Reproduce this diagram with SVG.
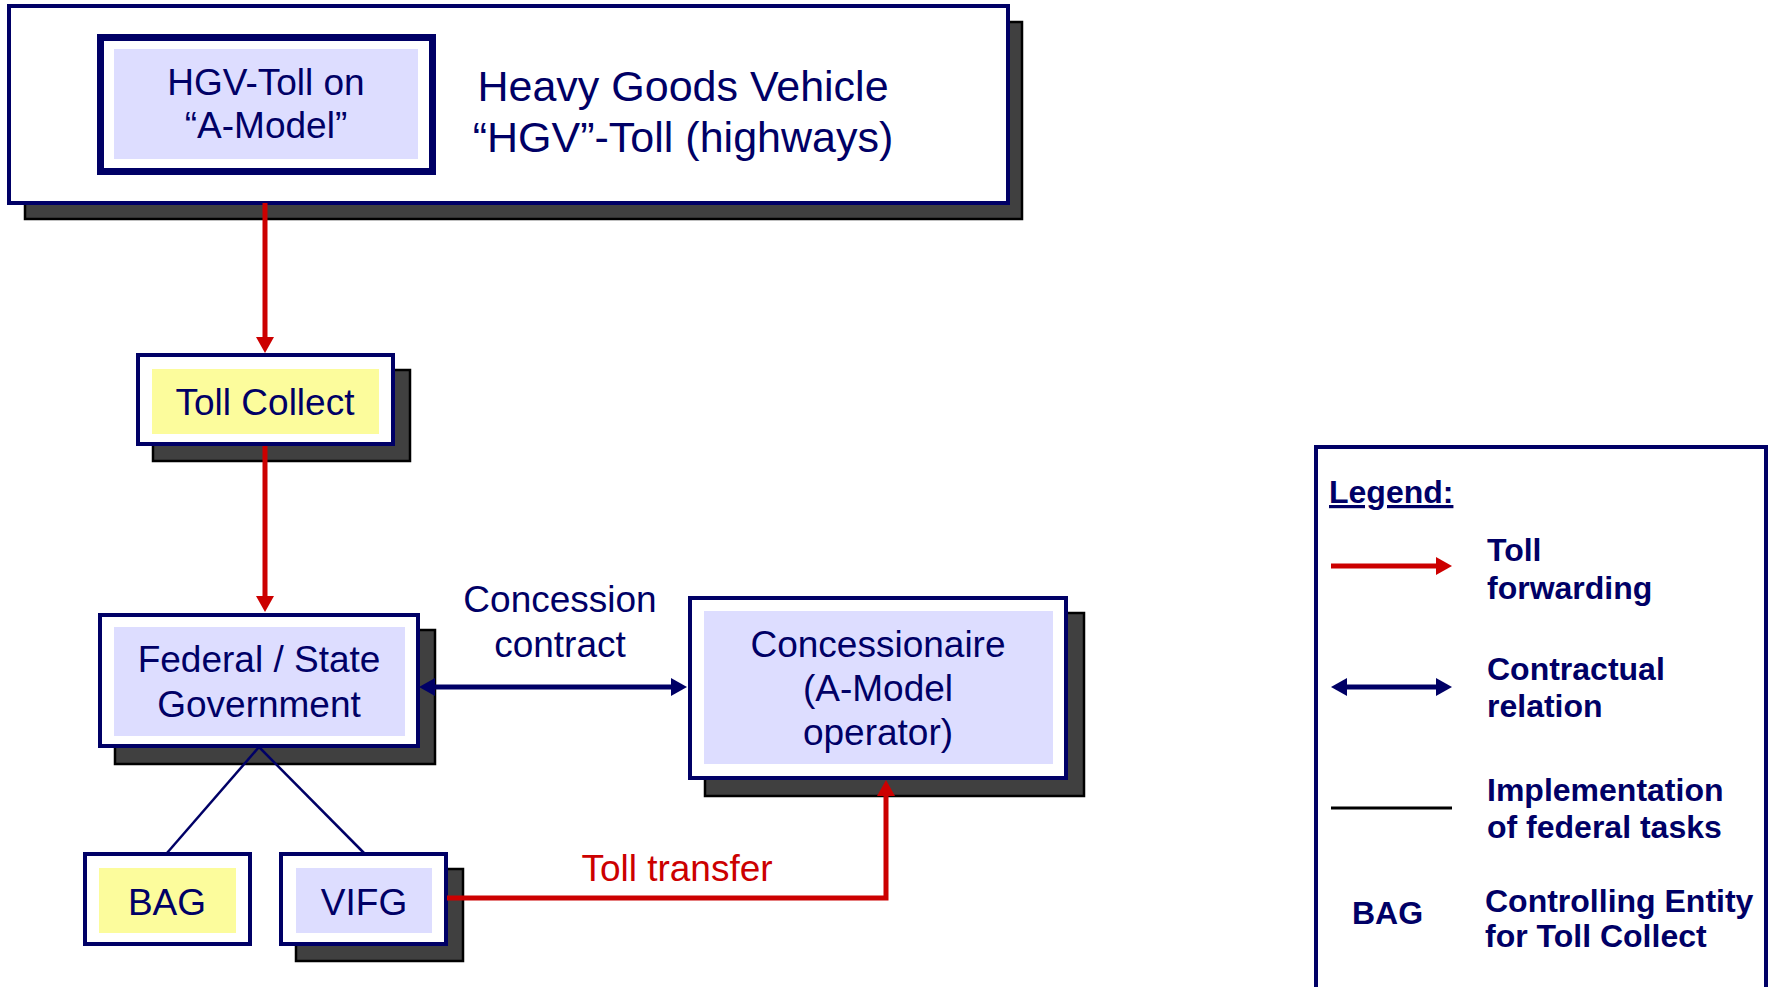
<svg xmlns="http://www.w3.org/2000/svg" width="1771" height="987" viewBox="0 0 1771 987">
<style>
.bg{fill:#ffffff}
.frame{fill:#ffffff;stroke:#000066;stroke-width:4}
.shadow{fill:#404040;stroke:#000000;stroke-width:2.5}
.lav{fill:#DDDDFF}
.yel{fill:#FCFC9C}
.t{font-family:"Liberation Sans",Arial,sans-serif;font-size:37px;fill:#000066;text-anchor:middle}
.head{font-size:43px}
.red{fill:#CC0000}
.lg{font-family:"Liberation Sans",Arial,sans-serif;font-size:32px;font-weight:bold;fill:#000066}
.redline{stroke:#CC0000;stroke-width:5;fill:none}
.navyline{stroke:#000066;stroke-width:5;fill:none}
.thin{stroke:#000066;stroke-width:2.5;fill:none}
</style>
<defs>
<marker id="redHead" markerWidth="16" markerHeight="18" refX="4" refY="9" orient="auto" markerUnits="userSpaceOnUse"><path d="M0,0 L16,9 L0,18 z" fill="#CC0000"/></marker>
<marker id="navyHead" markerWidth="16" markerHeight="18" refX="4" refY="9" orient="auto-start-reverse" markerUnits="userSpaceOnUse"><path d="M0,0 L16,9 L0,18 z" fill="#000066"/></marker>
</defs>
<rect class="bg" x="0" y="0" width="1771" height="987"/>

<g id="hgv-toll">
<rect class="shadow" x="25" y="22" width="997" height="197"/>
<rect class="frame" x="9" y="6" width="999" height="197" stroke-width="3"/>
<text class="t head" x="683" y="101">Heavy Goods Vehicle</text>
<text class="t head" x="683" y="152">“HGV”-Toll (highways)</text>
</g>

<g id="a-model">
<rect x="100.5" y="37.5" width="332" height="134" fill="#ffffff" stroke="#000066" stroke-width="7"/>
<rect class="lav" x="114" y="49" width="304" height="110"/>
<text class="t" x="266" y="95">HGV-Toll on</text>
<text class="t" x="266" y="138">“A-Model”</text>
</g>

<g id="toll-collect">
<rect class="shadow" x="153" y="370" width="257" height="91"/>
<rect class="frame" x="138" y="355" width="255" height="89"/>
<rect class="yel" x="152" y="369" width="227" height="65"/>
<text class="t" x="265" y="415">Toll Collect</text>
</g>

<g id="government">
<rect class="shadow" x="115" y="630" width="320" height="134"/>
<rect class="frame" x="100" y="615" width="318" height="131"/>
<rect class="lav" x="114" y="627" width="291" height="109"/>
<text class="t" x="259" y="672">Federal / State</text>
<text class="t" x="259" y="717">Government</text>
</g>

<g id="concessionaire">
<rect class="shadow" x="705" y="613" width="379" height="183"/>
<rect class="frame" x="690" y="598" width="376" height="180"/>
<rect class="lav" x="704" y="611" width="349" height="153"/>
<text class="t" x="878" y="657">Concessionaire</text>
<text class="t" x="878" y="701">(A-Model</text>
<text class="t" x="878" y="745">operator)</text>
</g>

<g id="bag">
<rect class="frame" x="85" y="854" width="165" height="90"/>
<rect class="yel" x="99" y="868" width="137" height="65"/>
<text class="t" x="167" y="915">BAG</text>
</g>

<g id="vifg">
<rect class="shadow" x="296" y="869" width="167" height="92"/>
<rect class="frame" x="281" y="854" width="165" height="90"/>
<rect class="lav" x="296" y="868" width="136" height="65"/>
<text class="t" x="364" y="915">VIFG</text>
</g>

<g id="connectors">
<line class="redline" x1="265" y1="203" x2="265" y2="341" marker-end="url(#redHead)"/>
<line class="redline" x1="265" y1="446" x2="265" y2="600" marker-end="url(#redHead)"/>
<line class="navyline" x1="431" y1="687" x2="675" y2="687" marker-start="url(#navyHead)" marker-end="url(#navyHead)"/>
<line class="thin" x1="259" y1="747" x2="167" y2="853"/>
<line class="thin" x1="259" y1="747" x2="364" y2="853"/>
<polyline class="redline" points="447,898 886,898 886,792" marker-end="url(#redHead)"/>
<text class="t red" x="677" y="881">Toll transfer</text>
<text class="t" x="560" y="612">Concession</text>
<text class="t" x="560" y="657">contract</text>
</g>

<g id="legend">
<rect x="1316" y="447" width="450" height="600" fill="#ffffff" stroke="#000066" stroke-width="4"/>
<text class="lg" x="1329" y="503" text-decoration="underline">Legend:</text>
<line class="redline" x1="1331" y1="566" x2="1440" y2="566" marker-end="url(#redHead)"/>
<text class="lg" x="1487" y="561">Toll</text>
<text class="lg" x="1487" y="599">forwarding</text>
<line class="navyline" x1="1343" y1="687" x2="1440" y2="687" marker-start="url(#navyHead)" marker-end="url(#navyHead)"/>
<text class="lg" x="1487" y="680">Contractual</text>
<text class="lg" x="1487" y="717">relation</text>
<line x1="1331" y1="808" x2="1452" y2="808" stroke="#000000" stroke-width="3"/>
<text class="lg" x="1487" y="801">Implementation</text>
<text class="lg" x="1487" y="838">of federal tasks</text>
<text class="lg" x="1352" y="924">BAG</text>
<text class="lg" x="1485" y="912">Controlling Entity</text>
<text class="lg" x="1485" y="947">for Toll Collect</text>
</g>
</svg>
